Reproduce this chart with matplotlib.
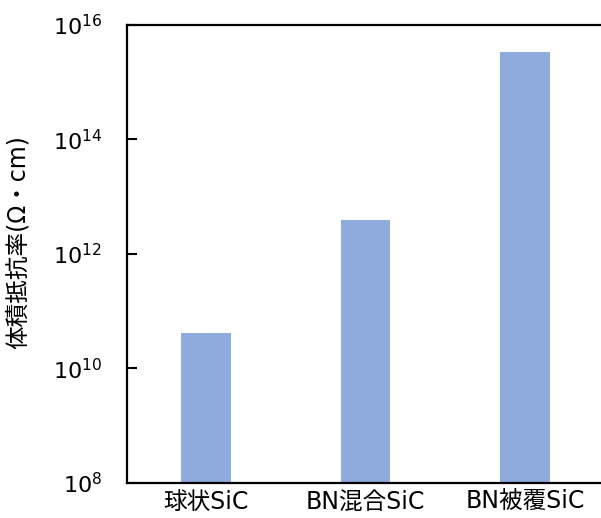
import matplotlib
matplotlib.use("Agg")
import matplotlib.pyplot as plt
import numpy as np

plt.rcParams['font.family'] = ['DejaVu Sans', 'Noto Sans CJK JP']
plt.rcParams['mathtext.fontset'] = 'dejavusans'

categories = ['球状SiC', 'BN混合SiC', 'BN被覆SiC']
resistivity = [4.2e10, 3.9e12, 3.4e15]
yticks = [1e8, 1e10, 1e12, 1e14, 1e16]
ytick_labels = ['$10^{8}$', '$10^{10}$', '$10^{12}$', '$10^{14}$', '$10^{16}$']

fig = plt.figure(figsize=(6.01, 5.18), dpi=100)
ax = fig.add_axes([0.2113, 0.0676, 0.7887, 0.8842])

x = np.arange(len(categories))
ax.bar(x, resistivity, width=0.31, color='#8faadc', bottom=1e8)

ax.set_yscale('log')
ax.set_ylim(1e8, 1e16)
ax.set_xlim(-0.495, 2.476)
ax.set_yticks(yticks)
ax.set_yticklabels(ytick_labels, fontsize=16)
ax.yaxis.set_minor_locator(matplotlib.ticker.NullLocator())
ax.tick_params(axis='y', direction='in', length=7, width=1.5, pad=18)
ax.set_xticks(x)
ax.set_xticklabels(categories, fontsize=17)
ax.tick_params(axis='x', length=0, pad=5)

ax.spines['right'].set_visible(False)
for s in ['left', 'top', 'bottom']:
    ax.spines[s].set_linewidth(1.6)

ax.set_ylabel('体積抵抗率(Ω・cm)', fontsize=17)
ax.yaxis.set_label_coords(-0.205, 0.525)

fig.savefig('out.png', dpi=100)
